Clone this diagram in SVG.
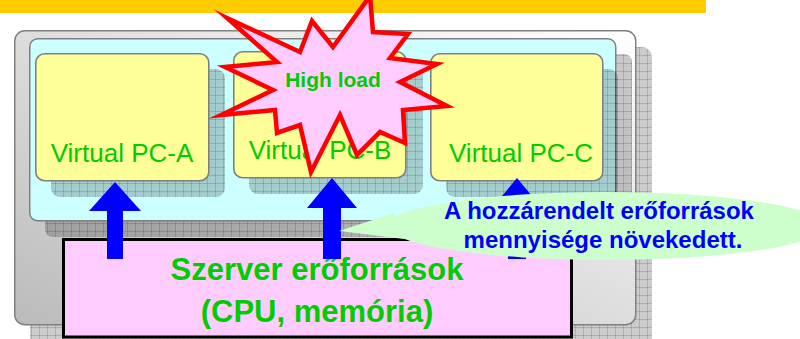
<svg xmlns="http://www.w3.org/2000/svg" width="800" height="339" viewBox="0 0 800 339">
  <defs>
    <linearGradient id="serverGrad" x1="1" y1="0" x2="0" y2="1">
      <stop offset="0" stop-color="#FFFFFF"/>
      <stop offset="1" stop-color="#BBBBBB"/>
    </linearGradient>
    <!-- hatched drop-shadow texture -->
    <pattern id="hatch" width="8" height="8" patternUnits="userSpaceOnUse">
      <rect width="8" height="8" fill="#000" fill-opacity="0.2"/>
      <path d="M7.5 0V8M0 7.5H8" stroke="#000" stroke-opacity="0.14" stroke-width="1"/>
    </pattern>
    <style>
      .shadow { fill: url(#hatch); }
      .vm { fill: #FFFF99; stroke: #808080; stroke-width: 1.6; }
      .vmText { font-family: "Liberation Sans", Arial, sans-serif; font-size: 26px; fill: #00CC00; text-anchor: middle; }
      .bold { font-family: "Liberation Sans", Arial, sans-serif; font-weight: bold; text-anchor: middle; }
      .arrow { fill: #0000FF; }
    </style>
  </defs>

  <!-- top bar -->
  <rect x="0" y="0" width="706" height="13" fill="#FFCC00"/>

  <!-- physical server -->
  <g id="server">
    <rect class="shadow" x="30" y="47" width="622" height="300" rx="10"/>
    <rect x="14.75" y="30.75" width="621" height="294" rx="10" fill="url(#serverGrad)" stroke="#808080" stroke-width="1.5"/>
  </g>

  <!-- virtualization layer -->
  <g id="hypervisor">
    <rect class="shadow" x="45" y="54" width="587" height="183" rx="8"/>
    <rect x="29.75" y="38.75" width="586" height="182" rx="8" fill="#CCFFFF" stroke="#808080" stroke-width="1.5"/>
  </g>

  <g id="vm-a">
    <rect class="shadow" x="51" y="69" width="174" height="128" rx="9"/>
    <rect class="vm" x="35.8" y="53.8" width="173" height="127" rx="9"/>
    <text class="vmText" x="122" y="162">Virtual PC-A</text>
  </g>

  <g id="vm-b">
    <rect class="shadow" x="249" y="67" width="174" height="127" rx="9"/>
    <rect class="vm" x="233.8" y="51.8" width="172" height="126" rx="9"/>
    <text class="vmText" x="320" y="159">Virtual PC-B</text>
  </g>

  <g id="vm-c">
    <rect class="shadow" x="446" y="69" width="172" height="128" rx="9"/>
    <rect class="vm" x="430.8" y="53.8" width="172" height="127" rx="9"/>
    <text class="vmText" x="521" y="162">Virtual PC-C</text>
  </g>

  <!-- hardware resources -->
  <g id="resources">
    <rect x="63.5" y="239.5" width="508" height="97.5" fill="#FFCCFF" stroke="#000" stroke-width="3"/>
    <text class="bold" x="317" y="280" font-size="31" fill="#00CC00">Szerver erőforrások</text>
    <text class="bold" x="317" y="322" font-size="31" fill="#00CC00">(CPU, memória)</text>
  </g>

  <!-- resource allocation arrows -->
  <g id="connectors">
    <polygon class="arrow" points="115,182 141,211 123,211 123,259 107,259 107,211 89,211"/>
    <polygon class="arrow" points="332,178 357,208 341,208 341,259 323,259 323,208 307,208"/>
    <polygon class="arrow" points="517,178 542,208 526,208 526,259 508,259 508,208 492,208"/>
  </g>

  <!-- overload burst -->
  <g id="high-load">
    <polygon points="227,18 300,52 312,21 333,47 370,-4 373,32 408,34 390,58 437,64 400,82 447,106 403,110 405,143 380,132 357,155 340,115 311,172 300,125 277,133 275,110 221,115 273,90 225,67 277,62"
      fill="#FFCCFF" stroke="#FF0000" stroke-width="4.5" stroke-linejoin="miter" stroke-miterlimit="20"/>
    <text class="bold" x="333" y="87" font-size="21" fill="#00CC00">High load</text>
  </g>

  <!-- callout -->
  <g id="callout">
    <polygon points="339,231 394,213 404,239" fill="#CCFFCC"/>
    <ellipse cx="606" cy="226" rx="218" ry="34" fill="#CCFFCC"/>
    <text class="bold" x="599" y="219" font-size="24" fill="#0000FF">A hozzárendelt erőforrások</text>
    <text class="bold" x="603" y="248" font-size="24" fill="#0000FF">mennyisége növekedett.</text>
  </g>
</svg>
